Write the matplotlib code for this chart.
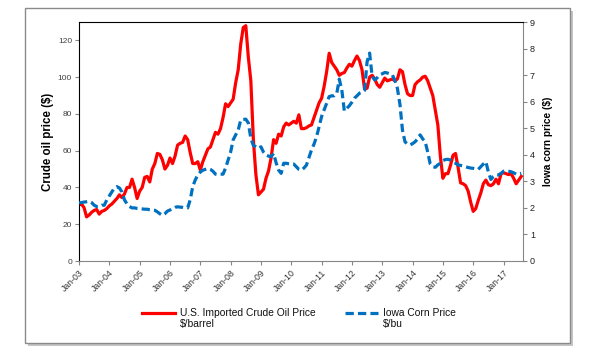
import matplotlib
matplotlib.use("Agg")
import matplotlib.pyplot as plt
from matplotlib.patches import Rectangle
from matplotlib.lines import Line2D

plt.rcParams['font.family'] = ['Liberation Sans', 'DejaVu Sans']

# monthly values, Jan-03 .. Aug-17
oil_price = [
    30.5, 31, 29, 24, 25, 26.5, 27.5, 28, 25.5, 27, 27.5, 28.5,       # 2003
    30, 31, 32.5, 34, 36, 34.5, 36.5, 40, 40, 44.5, 40, 34,           # 2004
    38, 40, 45.5, 46, 43, 50, 53, 58.5, 58, 55, 50, 52,               # 2005
    56, 53, 57, 63, 64, 64.5, 68, 66, 59, 53, 53, 54,                 # 2006
    49.5, 54, 57.5, 61, 62, 66, 70, 69, 72, 78, 85.5, 84,             # 2007
    86, 88, 97, 104, 118, 127, 128, 111, 98, 66, 47, 36,              # 2008
    37.5, 39, 45, 49, 56, 66, 64, 69, 68, 73, 75, 74,                 # 2009
    75, 76, 75, 79.5, 72, 72, 72.5, 73.5, 74, 78, 82, 86,             # 2010
    88.5, 95, 103, 113, 108, 106, 104, 101, 102, 102.5, 105, 107,     # 2011
    106, 109, 111.5, 109, 104, 93.5, 94, 100, 101, 99, 96, 94.5,      # 2012
    97, 99.5, 98, 98.5, 99, 98, 99, 104, 103, 96, 91, 90,             # 2013
    90, 96, 97.5, 98.5, 100, 100.5, 98, 94, 90, 82, 74, 57,           # 2014
    45, 47.5, 47.5, 52, 57.5, 58.5, 51, 42.5, 42, 41, 38, 32,         # 2015
    27, 28.5, 33, 37, 42, 44, 41.5, 41, 42, 44.5, 42, 47.5,           # 2016
    48, 47.5, 47, 47.5, 45, 42, 44, 46,                               # 2017
]
corn_price = [
    2.19, 2.2, 2.22, 2.23, 2.25, 2.2, 2.1, 2.05, 2.05, 2.1, 2.1, 2.3,
    2.45, 2.6, 2.75, 2.8, 2.75, 2.6, 2.3, 2.15, 2.05, 2.0, 2.0, 1.98,
    1.97, 1.96, 1.95, 1.95, 1.93, 1.92, 1.91, 1.85, 1.78, 1.72, 1.78, 1.88,
    1.92, 1.97, 2.02, 2.04, 2.03, 2.02, 2.0, 2.0, 2.3, 2.8, 3.05, 3.24,
    3.35, 3.42, 3.45, 3.48, 3.45, 3.38, 3.27, 3.25, 3.27, 3.27, 3.5, 3.8,
    4.1, 4.56, 4.75, 4.93, 5.31, 5.33, 5.34, 5.2, 4.62, 4.35, 4.3, 4.24,
    4.3, 4.1, 3.99, 3.95, 3.93, 4.05, 3.7, 3.42, 3.3, 3.68, 3.68, 3.66,
    3.65, 3.65, 3.55, 3.45, 3.42, 3.5, 3.61, 3.9, 4.18, 4.4, 4.68, 5.05,
    5.44, 5.69, 5.95, 6.19, 6.22, 6.22, 6.3, 6.85, 6.44, 5.65, 5.75, 5.85,
    5.98, 6.13, 6.22, 6.32, 6.36, 6.42, 7.5, 7.83, 6.95, 6.82, 6.9, 7.01,
    7.05, 7.1, 7.08, 7.05, 7.01, 6.8, 6.5, 5.9, 4.93, 4.49, 4.4, 4.37,
    4.42, 4.49, 4.6, 4.75, 4.6, 4.49, 4.1, 3.65, 3.55, 3.53, 3.62, 3.68,
    3.78, 3.82, 3.83, 3.8, 3.72, 3.68, 3.62, 3.6, 3.58, 3.55, 3.52, 3.5,
    3.49, 3.47, 3.45, 3.55, 3.65, 3.74, 3.35, 3.07, 3.18, 3.24, 3.24, 3.3,
    3.38, 3.4, 3.38, 3.36, 3.32, 3.27, 3.28, 3.3,
]
year_labels = ['Jan-03', 'Jan-04', 'Jan-05', 'Jan-06', 'Jan-07', 'Jan-08', 'Jan-09',
               'Jan-10', 'Jan-11', 'Jan-12', 'Jan-13', 'Jan-14', 'Jan-15', 'Jan-16', 'Jan-17']
oil_ticks = [0, 20, 40, 60, 80, 100, 120]
corn_ticks = [0, 1, 2, 3, 4, 5, 6, 7, 8, 9]

months = list(range(len(oil_price)))
gray = '#868686'

fig = plt.figure(figsize=(6, 3.5), dpi=100)
fig.patch.set_facecolor('white')

# outer chart frame with a soft shadow
fig.add_artist(Rectangle((28 / 600, 1 - 346 / 350), 545 / 600, 335 / 350,
                         transform=fig.transFigure, facecolor='#c4c4c4',
                         edgecolor='none', zorder=-3))
fig.add_artist(Rectangle((25 / 600, 1 - 343 / 350), 545 / 600, 335 / 350,
                         transform=fig.transFigure, facecolor='white',
                         edgecolor='#8a8a8a', lw=1, zorder=-2))

ax = fig.add_axes([79 / 600, 1 - 261 / 350, 444 / 600, 239 / 350])
ax.set_facecolor('none')
ax.plot(months, oil_price, color='#ff0000', lw=2.3, solid_joinstyle='round')
ax.set_xlim(0, 175.7)
ax.set_ylim(0, 130)
ax.set_yticks(oil_ticks)
ax.set_xticks([12 * i for i in range(len(year_labels))])
ax.set_xticklabels(year_labels, rotation=45, ha='right', rotation_mode='anchor')
ax.tick_params(axis='x', length=3, color=gray, labelsize=6.3, labelcolor='#333333', pad=2)
ax.tick_params(axis='y', length=3, color=gray, labelsize=6, labelcolor='#404040', pad=2)
ax.spines['left'].set_color('black')
ax.spines['bottom'].set_color(gray)
ax.spines['top'].set_visible(False)
ax.spines['right'].set_visible(False)
ax.set_ylabel('Crude oil price ($)', fontsize=8.3, fontweight='bold')
ax.yaxis.set_label_coords(-0.057, 0.5)

ax2 = ax.twinx()
ax2.plot(months, corn_price, color='#0070c0', lw=2.3, dashes=(2.6, 1.3))
ax2.set_ylim(0, 9)
ax2.set_yticks(corn_ticks)
ax2.tick_params(axis='y', length=3, color=gray, labelsize=6.5, labelcolor='#222222', pad=2)
ax2.spines['top'].set_color('black')
ax2.spines['right'].set_color(gray)
ax2.spines['left'].set_visible(False)
ax2.spines['bottom'].set_visible(False)
ax2.set_ylabel('Iowa corn price ($)', fontsize=7.3, fontweight='bold')
ax2.yaxis.set_label_coords(1.045, 0.5)

# legend drawn by hand so the line sits beside the first text line
fig.add_artist(Line2D([142 / 600, 175 / 600], [1 - 313 / 350] * 2, color='#ff0000', lw=2.3,
                      transform=fig.transFigure))
fig.text(180 / 600, 1 - 307.5 / 350, 'U.S. Imported Crude Oil Price\n$/barrel',
         fontsize=7.4, va='top', ha='left', color='#111111')
fig.add_artist(Line2D([345 / 600, 378 / 600], [1 - 313 / 350] * 2, color='#0070c0', lw=2.3,
                      dashes=(2.6, 1.3), transform=fig.transFigure))
fig.text(383 / 600, 1 - 307.5 / 350, 'Iowa Corn Price\n$/bu',
         fontsize=7.4, va='top', ha='left', color='#111111')

fig.savefig('out.png', dpi=100)
